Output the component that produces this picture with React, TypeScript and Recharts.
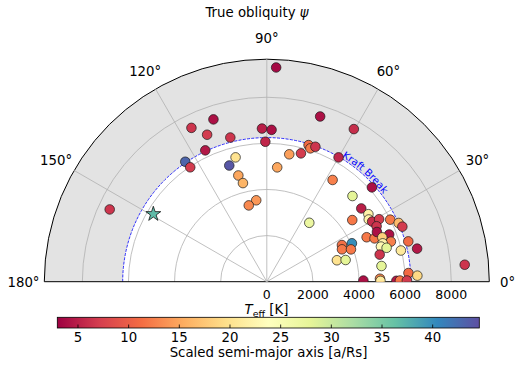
import React from 'react';
import { RadarChart, Radar, PolarAngleAxis, PolarRadiusAxis, PolarGrid } from 'recharts';

// true obliquity (deg), stellar Teff (K), scaled semi-major axis a/Rs
const psi = [
  87.5, 108.2, 116.1, 112.1, 104.2, 115.1, 91.8, 88.2, 90.6, 72.1,
  60.3, 73.0, 71.9, 70.2, 80.0, 75.1, 60.0, 104.1, 124.2, 123.8,
  107.9, 84.8, 105.0, 103.6, 57.1, 97.4, 103.3, 155.3, 41.9, 45.0,
  37.8, 54.2, 33.6, 31.4, 35.8, 29.7, 29.1, 26.8, 26.7, 24.0,
  22.1, 24.0, 21.9, 24.3, 21.1, 21.0, 17.9, 18.3, 17.1, 15.8,
  13.5, 26.0, 24.3, 23.3, 21.0, 17.0, 15.4, 7.8, 13.1, 15.9,
  12.4, 4.9, 3.5, 2.3, 0.7, 1.5, 0.4, 0.4, 0.5, 0.5,
];
const teff = [
  9300, 7410, 7430, 6880, 6450, 6290, 6645, 6590, 6070, 7530,
  7620, 6195, 6085, 6220, 5610, 5760, 6225, 5560, 6290, 5970,
  5295, 4980, 4770, 4400, 5255, 3560, 3400, 7500, 6125, 5255,
  5185, 3150, 5290, 5180, 4570, 5260, 5575, 5335, 5990, 6260,
  6345, 4740, 5035, 5240, 5690, 5365, 5655, 5295, 5180, 5400,
  5035, 3625, 4050, 3550, 3910, 3180, 3545, 5020, 5970, 6380,
  6675, 8615, 6155, 6535, 4190, 4910, 4930, 5620, 5775, 6075,
];
const aRs = [
  3.5, 4, 6.5, 7, 6.5, 4.5, 5, 4, 5.5, 4,
  6, 11, 12, 6.5, 14.5, 7, 5.5, 20, 43, 7,
  44, 15, 15, 16, 12.5, 14, 13, 6.5, 4, 28,
  5, 27, 22, 22, 12, 6, 7, 6.5, 12, 16.5,
  7, 12, 12, 4, 4, 18, 12.5, 22, 23, 28,
  6.5, 11.5, 40, 12, 12, 20, 28, 28, 21, 11,
  4.5, 6.5, 11, 19, 4, 13, 21, 4.5, 12, 7,
];

// the star marker
const starPsi = [149.2];
const starTeff = [5730];
const starARs = [36.8];

const angleTicks = [0, 30, 60, 90, 120, 150, 180];
const spokeAngles = [30, 60, 90, 120, 150];
const teffTicks = [0, 2000, 4000, 6000, 8000];
const cbarTicks = [5, 10, 15, 20, 25, 30, 35, 40];

const KRAFT = 6250;
const T_MAX = 9650;
const A_MIN = 2.96;
const A_MAX = 44.6;

const SPECTRAL = [
  '#9e0142', '#d53e4f', '#f46d43', '#fdae61', '#fee08b', '#ffffbf',
  '#e6f598', '#abdda4', '#66c2a5', '#3288bd', '#5e4fa2',
];

// geometry of the half disc (page pixels)
const CX = 266.8;
const CY = 281.7;
const R = 222.5;
const rPx = (t: number) => (t / T_MAX) * R;

const CB_X0 = 57.3;
const CB_X1 = 479.3;
const CB_Y = 317.3;
const CB_H = 10.7;
const cbX = (v: number) => CB_X0 + ((v - A_MIN) / (A_MAX - A_MIN)) * (CB_X1 - CB_X0);

const FONT = '"DejaVu Sans", sans-serif';

const hexRgb = (h: string) => [1, 3, 5].map((i) => parseInt(h.slice(i, i + 2), 16));

function spectral(v: number) {
  let t = (v - A_MIN) / (A_MAX - A_MIN);
  t = Math.max(0, Math.min(1, t)) * (SPECTRAL.length - 1);
  const i = Math.min(Math.floor(t), SPECTRAL.length - 2);
  const f = t - i;
  const a = hexRgb(SPECTRAL[i]);
  const b = hexRgb(SPECTRAL[i + 1]);
  const c = a.map((x, k) => Math.round(x + (b[k] - x) * f));
  return `rgb(${c[0]},${c[1]},${c[2]})`;
}

const rows = [
  ...psi.map((p, i) => ({ psi: p, teff: teff[i], a: aRs[i], star: false })),
  ...starPsi.map((p, i) => ({ psi: p, teff: starTeff[i], a: starARs[i], star: true })),
];

const pol = (r: number, deg: number) => {
  const t = (deg * Math.PI) / 180;
  return [CX + r * Math.cos(t), CY - r * Math.sin(t)];
};

const halfArc = (r: number) => `M ${CX - r} ${CY} A ${r} ${r} 0 0 1 ${CX + r} ${CY}`;

function starPath(cx: number, cy: number, ro: number) {
  const ri = ro * 0.382;
  const pts: string[] = [];
  for (let k = 0; k < 10; k++) {
    const r = k % 2 === 0 ? ro : ri;
    const t = (-90 + k * 36) * (Math.PI / 180);
    pts.push(`${(cx + r * Math.cos(t)).toFixed(2)},${(cy + r * Math.sin(t)).toFixed(2)}`);
  }
  return `M${pts.join('L')}Z`;
}

const renderDot = (props: any) => {
  const { cx, cy, index } = props;
  const row = props.payload?.payload ?? props.payload;
  if (cx == null || !isFinite(cx) || !row) return <g key={`d-${index}`} />;
  const fill = spectral(row.a);
  if (row.star) {
    return <path key={`d-${index}`} d={starPath(cx, cy, 7.8)} fill={fill} stroke="#111" strokeWidth={0.8} />;
  }
  return (
    <circle key={`d-${index}`} cx={cx} cy={cy} r={4.8} fill={fill} stroke="#1a1a1a" strokeWidth={0.7}
      clipPath="url(#halfClip)" />
  );
};

const AngleTick = (props: any) => {
  const v = props.payload?.value;
  const [x, y] = pol(243.3, v);
  // keep the 0° label inside the page
  const dx = v === 0 ? -2.5 : 0;
  return (
    <text x={x + dx} y={y + 4.8} textAnchor="middle" fontSize={13.3} fontFamily={FONT} fill="#000">
      {`${v}°`}
    </text>
  );
};

const RadiusTick = (props: any) => {
  const v = props.payload?.value;
  return (
    <text x={props.x} y={CY + 16.8} textAnchor="middle" fontSize={12.5} fontFamily={FONT} fill="#000">
      {v}
    </text>
  );
};

const Decor = () => {
  const rk = rPx(KRAFT);
  const rl = rk + 1.4;
  const [lx0, ly0] = pol(rl, 59);
  const [lx1, ly1] = pol(rl, 15);
  return (
    <svg width={516} height={365} style={{ position: 'absolute', left: 0, top: 0 }}>
      <defs>
        <clipPath id="halfClip">
          <rect x={0} y={0} width={516} height={CY} />
        </clipPath>
        <linearGradient id="cbGrad" x1="0" y1="0" x2="1" y2="0">
          {SPECTRAL.map((c, i) => (
            <stop key={c} offset={i / (SPECTRAL.length - 1)} stopColor={c} />
          ))}
        </linearGradient>
        <path id="kraftPath" d={`M ${lx0} ${ly0} A ${rl} ${rl} 0 0 1 ${lx1} ${ly1}`} />
      </defs>

      {/* shaded region beyond the Kraft break */}
      <path
        d={`${halfArc(R)} L ${CX + rk} ${CY} A ${rk} ${rk} 0 0 0 ${CX - rk} ${CY} Z`}
        fill="#e3e3e3"
      />
      {teffTicks.filter((t) => t > 0).map((t) => (
        <path key={t} d={halfArc(rPx(t))} fill="none" stroke="#b0b0b0" strokeWidth={0.8} />
      ))}
      <path d={halfArc(rk)} fill="none" stroke="#0000ff" strokeWidth={0.8} strokeDasharray="3,1.3" />
      <text fontSize={10} fontFamily={FONT} fill="#0000ff">
        <textPath href="#kraftPath">Kraft Break</textPath>
      </text>

      {/* spine */}
      <path d={`${halfArc(R)} Z`} fill="none" stroke="#000" strokeWidth={1} />

      <text x={257} y={16.5} textAnchor="middle" fontSize={13.3} fontFamily={FONT} fill="#000">
        True obliquity <tspan fontStyle="italic">ψ</tspan>
      </text>
      <text x={266.5} y={314} textAnchor="middle" fontSize={13.3} fontFamily={FONT} fill="#000">
        <tspan fontStyle="italic">T</tspan>
        <tspan fontSize={9.5} dy={3}>eff</tspan>
        <tspan dy={-3}> [K]</tspan>
      </text>

      {/* colour bar */}
      <rect x={CB_X0} y={CB_Y} width={CB_X1 - CB_X0} height={CB_H} fill="url(#cbGrad)" stroke="#000" strokeWidth={0.8} />
      {cbarTicks.map((t) => (
        <g key={t}>
          <line x1={cbX(t)} x2={cbX(t)} y1={CB_Y + CB_H} y2={CB_Y + CB_H - 3.5} stroke="#000" strokeWidth={0.8} />
          <text x={cbX(t)} y={341.5} textAnchor="middle" fontSize={13.3} fontFamily={FONT} fill="#000">
            {t}
          </text>
        </g>
      ))}
      <text x={268.5} y={356.5} textAnchor="middle" fontSize={13.3} fontFamily={FONT} fill="#000">
        Scaled semi-major axis [a/Rs]
      </text>
    </svg>
  );
};

const App = () => (
  <div style={{ position: 'absolute', left: 0, top: 0, width: 516, height: 365, background: '#fff', fontFamily: FONT }}>
    <Decor />
    <div style={{ position: 'absolute', left: 0, top: 0 }}>
      <RadarChart
        width={516}
        height={300}
        data={rows}
        cx={CX}
        cy={CY}
        innerRadius={0}
        outerRadius={R}
        startAngle={0}
        endAngle={180}
        margin={{ top: 0, right: 0, bottom: 0, left: 0 }}
      >
        <PolarGrid gridType="circle" polarRadius={[0]} polarAngles={spokeAngles} stroke="#b0b0b0" strokeWidth={0.8} />
        <PolarAngleAxis dataKey="psi" type="number" domain={[0, 180]} ticks={angleTicks}
          axisLine={false} tickLine={false} tick={AngleTick} />
        <PolarRadiusAxis angle={0} type="number" domain={[0, T_MAX]} ticks={teffTicks}
          axisLine={false} tickLine={false} tick={RadiusTick} />
        <Radar dataKey="teff" stroke="none" fill="none" fillOpacity={0} dot={renderDot}
          activeDot={false} isAnimationActive={false} />
      </RadarChart>
    </div>
  </div>
);

export default App;
